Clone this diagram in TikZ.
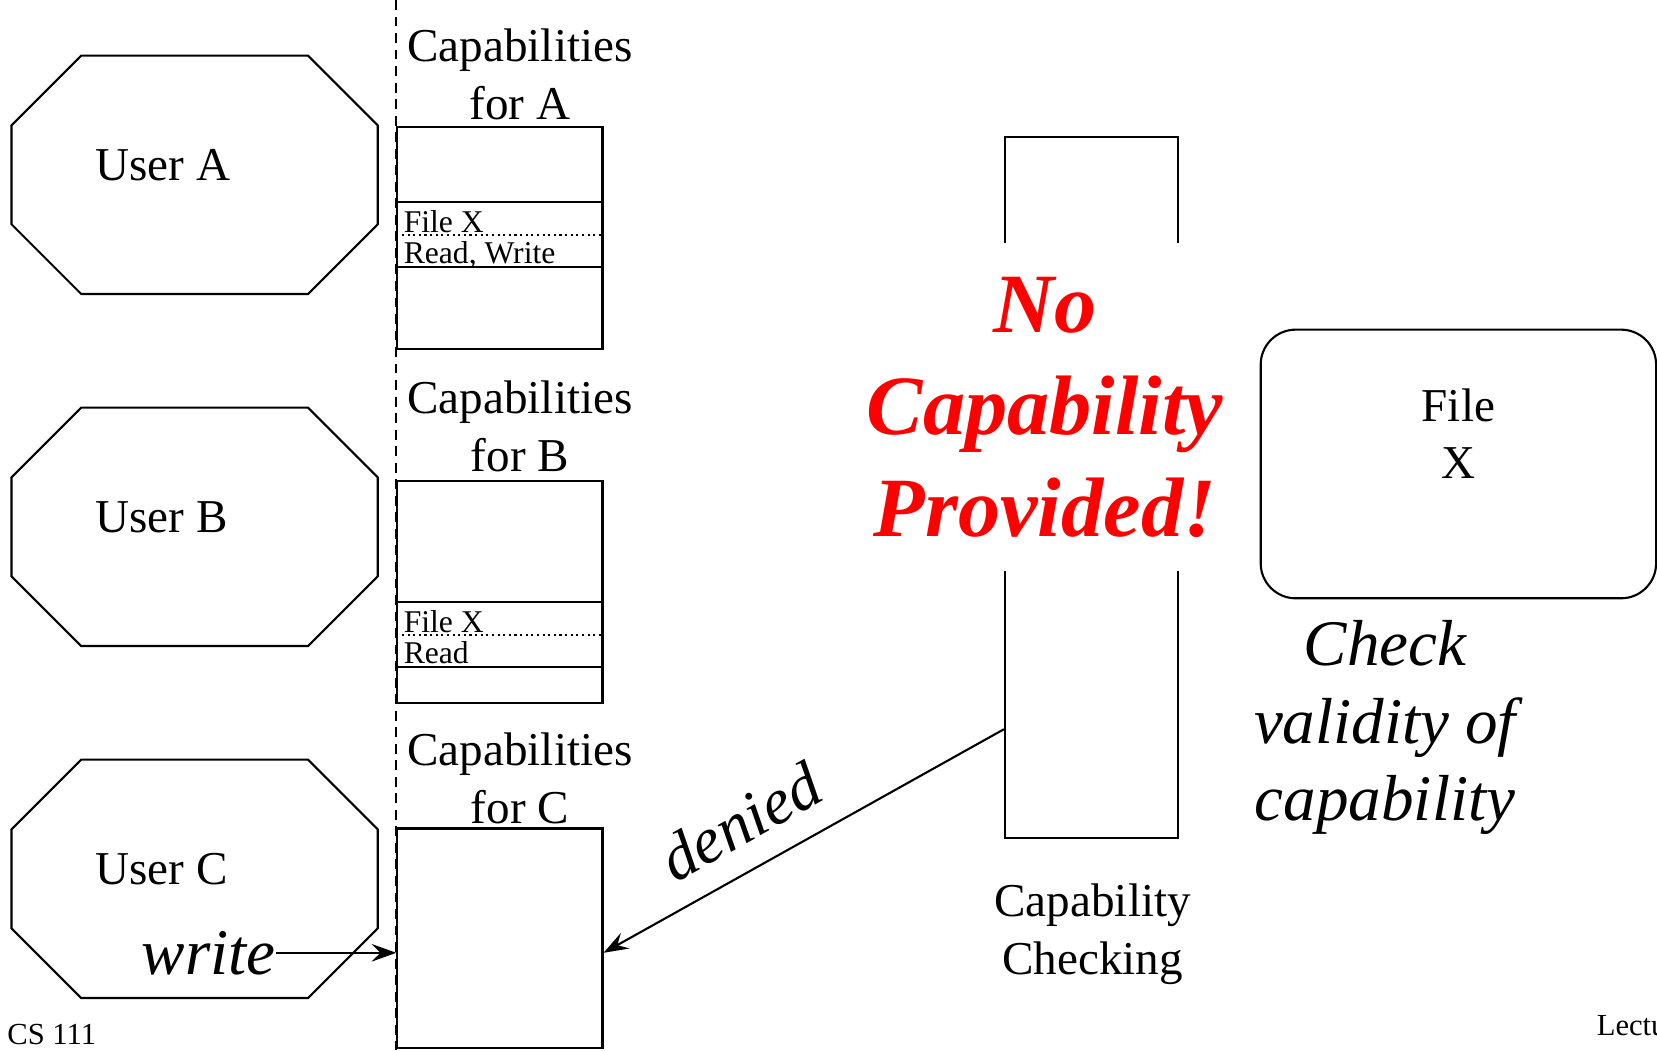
\documentclass[tikz,border=0pt]{standalone}
\usepackage{fontspec}
\setmainfont{Liberation Serif}
\usetikzlibrary{arrows.meta}

\begin{document}
\begin{tikzpicture}[x=0.01cm,y=-0.01cm,>={Stealth[length=7pt,width=5pt,inset=2.5pt]},line width=0.6pt,
 font=\fontsize{13.4}{16.4}\selectfont,
 octo/.style={minimum width=3.663cm,minimum height=2.383cm,inner sep=0pt},
 capbox/.style={draw,minimum width=2.05cm,inner sep=0pt},
 entry/.style={font=\fontsize{9}{10.8}\selectfont,anchor=base west,inner sep=0pt},
 slant/.style={font=\fontsize{18.5}{21.9}\selectfont\itshape}]
\useasboundingbox (0,0) rectangle (1657,1050);
% users
\foreach \u/\y in {A/175.9,B/527.9,C/879.9} {
  \node[octo] (user\u) at (195.8,\y) {};
  \draw (user\u.north west) ++(69.7,0) -- ++(226.9,0) -- ++(69.7,69.7) -- ++(0,98.9) -- ++(-69.7,69.7)
    -- ++(-226.9,0) -- ++(-69.7,-69.7) -- ++(0,-98.9) -- cycle;
  \node[anchor=base west,inner sep=0pt] (name\u) at (94.3,\y+4.1) {User \u};
}
\draw[dash pattern=on 2.8pt off 1.9pt] (396.3,0) -- (396.3,1050);
% capability lists
\node[capbox,minimum height=2.219cm] (capA) at (499.9,237.75) {};
\node[capbox,minimum height=2.22cm] (capB) at (499.9,591.8) {};
\node[capbox,minimum height=2.195cm] (capC) at (499.9,938.25) {};
\foreach \u/\y in {A/119.4,B/471.4,C/823.4}
  \node[align=center,anchor=base] (title\u) at (520,\y) {Capabilities\\for \u};
\draw (capA.west |- 0,201.7) -- (capA.east |- 0,201.7) (capA.west |- 0,266.7) -- (capA.east |- 0,266.7);
\draw[densely dotted] (capA.west |- 0,235) -- (capA.east |- 0,235);
\node[entry] (fileA) at (402.7,232.7) {File X};
\node[entry] (rightA) at (402.7,263.3) {Read, Write};
\draw (capB.west |- 0,601.7) -- (capB.east |- 0,601.7) (capB.west |- 0,666.7) -- (capB.east |- 0,666.7);
\draw[densely dotted] (capB.west |- 0,635) -- (capB.east |- 0,635);
\node[entry] (fileB) at (402.7,632.7) {File X};
\node[entry] (rightB) at (402.7,663.3) {Read};
% checker
\node[draw,minimum width=1.733cm,minimum height=7.006cm,inner sep=0pt] (check) at (1091.7,487.7) {};
\node[fill=white,text=red,align=center,font=\fontsize{24}{29}\selectfont\bfseries\itshape,minimum height=3.276cm] (nocap) at (1045,407) {No\\Capability\\Provided!};
\node[align=center,anchor=base] (checklbl) at (1092.7,974) {Capability\\Checking};
\node[draw,rounded corners=0.35cm,minimum width=3.952cm,minimum height=2.685cm,inner sep=0pt] (filex) at (1458.4,463.95) {};
\node[align=center,anchor=base] (filexlbl) at (1458.4,478.7) {File\\X};
\node[slant,align=center,anchor=base] (valid) at (1385,820) {Check\\validity of\\capability};
% requests
\node[slant,anchor=base west,inner sep=0pt] (write) at (140.6,974) {write};
\draw[->] (write.east) -- (capC.west |- write.east);
\draw[->] (check.west |- 0,729.2) -- node[slant,sloped,above=3.5pt,pos=0.6] (deny) {denied} (capC.east |- write.east);
\node[font=\fontsize{8.7}{10}\selectfont,anchor=base west,inner sep=0pt] (course) at (6.3,1044) {CS 111};
\node[font=\fontsize{8.7}{10}\selectfont,anchor=base west,inner sep=0pt] (lecture) at (1595.8,1035.6) {Lectu};
\end{tikzpicture}
\end{document}
